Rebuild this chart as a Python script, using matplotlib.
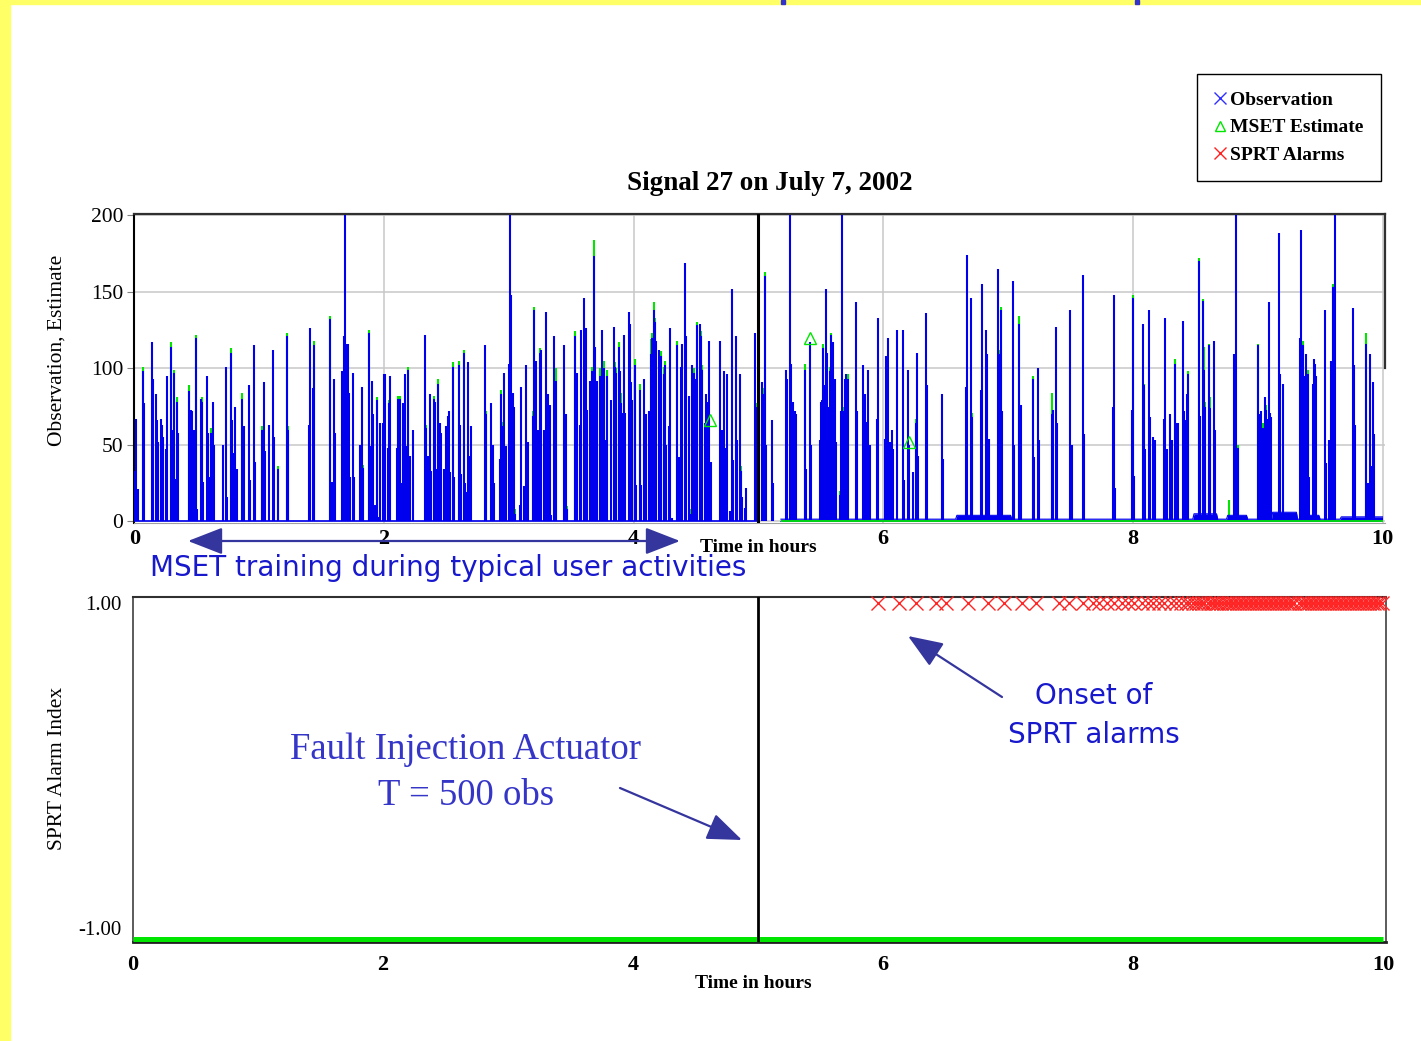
import numpy as np
import matplotlib
matplotlib.use("Agg")
import matplotlib.pyplot as plt
from matplotlib.lines import Line2D
from matplotlib.patches import Rectangle, FancyArrowPatch, ArrowStyle
from matplotlib.transforms import ScaledTranslation

plt.rcParams["font.family"] = ["Liberation Serif", "DejaVu Serif"]

# ---- data (observation number, 100 obs per hour) ----
OBS_PER_HOUR = 100
n_obs = 1000
fault_obs = 500

# observation spikes, training part (obs 0-499)
train_idx = [0, 1, 3, 7, 8, 14, 15, 17, 18, 19, 21, 22, 23, 25, 26, 29, 30, 31, 32, 33, 34, 35,
             44, 45, 46, 48, 49, 50, 53, 54, 55, 58, 59, 60, 61, 63, 64, 71, 73, 74, 77, 78, 79,
             81, 82, 86, 88, 92, 93, 96, 97, 102, 103, 104, 105, 108, 111, 112, 115, 122, 123,
             140, 141, 143, 144, 157, 158, 160, 161, 166, 167, 168, 169, 170, 171, 172, 173, 175,
             176, 181, 182, 183, 188, 189, 190, 191, 193, 194, 195, 197, 199, 200, 201, 203, 204,
             205, 210, 211, 213, 214, 215, 217, 218, 219, 221, 223, 233, 234, 235, 237, 238, 240,
             241, 242, 243,
             245, 246, 248, 250, 251, 252, 253, 255, 256, 260, 261, 262, 264, 265, 266, 267, 268,
             270, 281, 282, 286, 287, 288, 293, 294, 295, 296, 297, 298, 300, 301, 302, 303, 304,
             305, 309, 310, 312, 314, 315, 319, 320, 321, 322, 323, 325, 326, 328, 330, 331, 332,
             333, 334, 336, 338, 344, 346, 347, 353, 354, 355, 357, 358, 360, 362, 363, 365, 367,
             368, 369, 370, 371, 373, 374, 375, 376, 378, 379, 382, 384, 385, 386, 388, 389, 390,
             391, 392, 393, 396, 397, 398, 399, 401, 402, 405, 406, 408, 409, 410, 412, 413, 414,
             415, 416, 417, 418, 420, 421, 422, 424, 425, 426, 428, 429, 431, 435, 436, 438, 439,
             441, 442, 444, 445, 447, 448, 450, 451, 453, 454, 455, 457, 458, 459, 460, 462, 469,
             471, 472, 474, 475, 477, 479, 480, 482, 483, 485, 486, 487, 489, 490, 497, 498]
train_val = [33, 67, 21, 98, 77, 117, 93, 83, 66, 52, 67, 63, 55, 47, 95, 114, 50, 60, 97, 28, 78, 58,
             85, 73, 72, 60, 120, 8, 80, 78, 26, 95, 58, 29, 58, 78, 50, 50, 101, 16, 110, 66, 45,
             75, 34, 80, 62, 89, 27, 115, 39, 60, 5, 91, 46, 63, 112, 55, 34, 121, 60,
             63, 126, 87, 115, 132, 26, 93, 58, 98, 79, 121, 200, 116, 116, 84, 29, 97,
             29, 50, 88, 35, 123, 49, 92, 70, 11, 79, 3, 64, 64, 96, 96, 48, 77,
             95, 48, 80, 80, 25, 77, 96, 49, 99, 43, 60, 122, 61, 43, 83, 33, 80,
             78, 34, 90,
             64, 58, 34, 62, 69, 72, 32, 101, 29, 102, 63, 31, 110, 25, 19, 104, 43,
             62, 115, 70, 77, 50, 25, 41, 83, 62, 97, 47, 49, 103, 200, 148, 84, 75,
             5, 11, 88, 23, 102, 52, 69, 138, 51, 105, 60, 110, 112, 60, 137, 83, 50,
             76, 4, 121, 92, 115, 70, 8, 121, 63, 97, 63, 125, 146, 126, 73, 92, 98,
             173, 114, 55, 92, 95, 5, 125, 100, 53, 95, 79, 127, 101, 97, 114, 98, 77,
             71, 122, 71, 137, 129, 91, 79, 102, 24, 86, 24, 93, 69, 70, 72, 55, 109,
             120, 138, 130, 118, 112, 45, 108, 96, 102, 50, 62, 126, 2, 115, 42, 101, 116,
             169, 121, 82, 5, 102, 97, 93, 128, 129, 121, 99, 64, 83, 78, 118, 39, 118,
             60, 98, 48, 96, 7, 152, 40, 121, 53, 96, 33, 16, 9, 22, 123, 75]

# observation spikes after the fault injection (obs 500-1000)
test_idx = [503, 504, 505, 506, 511, 512, 522, 523, 525, 526, 528, 529, 530, 537, 538, 541, 542,
            549, 550, 551, 552, 553, 554, 555, 556, 557, 558, 559, 560, 561, 562, 565, 566, 567,
            568, 569, 570, 571, 572, 578, 579, 584, 585, 586, 588, 589, 595, 596, 601, 602, 603,
            604, 605, 607, 608, 611, 616, 617, 620, 621, 624, 626, 627, 628, 634, 635, 647, 648,
            666, 667, 670, 671, 678, 679, 682, 683, 685, 692, 693, 694, 695, 704, 705, 709, 710,
            720, 721, 724, 725, 735, 736, 738, 739,
            750, 751, 760, 761, 784, 785, 786, 799, 800, 801, 808, 809, 810, 813, 814, 816, 818,
            825, 826, 827, 830, 831, 834, 835, 836, 840, 841, 842, 843, 844, 853, 854, 856, 857,
            858, 861, 862, 865, 866, 881, 883, 884, 900, 901, 903, 904, 906, 907, 908, 909, 910,
            911, 917, 918, 920, 934, 935, 936, 937, 938, 939, 940, 941, 944, 945, 946, 947, 954,
            955, 957, 959, 960, 962, 976, 977, 978, 987, 988, 990, 991, 992, 993]
test_val = [91, 83, 160, 50, 66, 25, 99, 93, 200, 103, 78, 72, 70, 99, 34, 117, 50,
            53, 78, 79, 113, 89, 152, 110, 75, 98, 122, 108, 117, 93, 52, 17, 72, 200,
            72, 93, 96, 92, 93, 143, 72, 102, 83, 65, 99, 50, 67, 133, 54, 108, 53,
            120, 52, 60, 47, 125, 125, 27, 99, 50, 32, 64, 110, 43, 136, 89, 83, 41,
            88, 174, 146, 68, 86, 155, 125, 109, 54, 165, 109, 138, 72, 157, 50, 129, 76,
            93, 42, 100, 53, 70, 73, 127, 64,
            138, 50, 161, 57, 75, 148, 22, 73, 146, 30, 129, 89, 47, 138, 68, 55, 53,
            67, 133, 47, 70, 53, 103, 64, 64, 131, 72, 66, 83, 96, 170, 69, 144, 99,
            75, 115, 74, 118, 60, 109, 200, 48, 115, 70, 72, 61, 81, 73, 67, 143, 71,
            68, 188, 96, 90, 120, 190, 115, 95, 62, 109, 96, 29, 90, 106, 103, 95, 138,
            38, 53, 105, 153, 200, 139, 102, 63, 116, 25, 109, 36, 91, 57]

# low raised stretches of the observation baseline after the fault
floor_start = [518, 659, 849, 876, 912, 935, 967]
floor_end = [1000, 702, 867, 891, 931, 949, 1000]
floor_level = [1.5, 4, 5, 4, 6, 4, 3]

# MSET estimate where it shows above the observation
est_idx = [7, 29, 32, 34, 44, 49, 54, 61, 77, 86, 102, 115, 122, 123, 144, 157, 167, 183, 188,
           194, 204, 211, 213, 219, 234, 240, 243, 255, 260, 264, 282, 294, 295, 305, 319, 320,
           325, 338, 347, 353, 367, 368, 373, 376, 379, 385, 386, 388, 390, 401, 405, 413, 414,
           415, 416, 417, 422, 424, 425, 435, 445, 448, 451, 454, 455, 486, 498, 504, 505, 537,
           552, 557, 558, 565, 568, 572, 626, 671, 693, 694, 709, 720, 735, 800, 809, 834, 844,
           853, 856, 857, 858, 861, 862, 877, 884, 900, 904, 907, 936, 940, 960, 987]
est_val = [101, 117, 99, 81, 89, 122, 81, 61, 113, 84, 62, 36, 123, 62, 118, 134, 82, 37, 125,
           81, 79, 82, 82, 101, 63, 82, 93, 104, 105, 112, 72, 86, 65, 8, 72, 140,
           113, 100, 10, 124, 101, 184, 100, 105, 99, 104, 100, 117, 84, 106, 90, 58, 119,
           123, 143, 133, 111, 101, 105, 118, 8, 100, 130, 124, 102, 36, 77, 87, 163, 103,
           116, 101, 123, 20, 75, 96, 67, 71, 112, 140, 134, 95, 84, 148, 90, 106, 98,
           172, 145, 114, 78, 116, 81, 14, 50, 116, 64, 76, 118, 99, 155, 123]

# estimate points drawn with a marker
est_mark_idx = [461, 541, 621]
est_mark_val = [66, 120, 52]

# SPRT alarms (index = 1)
alarm_idx = [596, 613, 626, 642, 650, 668, 684, 697, 711, 722, 741, 749, 760, 768, 773, 779,
             785, 791, 796, 801, 807, 812, 816, 821, 825, 830, 834, 838, 842, 845, 848, 850,
             853, 855, 857, 860, 862, 864, 866, 868, 870, 873, 875, 877, 879, 881, 883, 885,
             887, 889, 891, 893, 895, 897, 899, 901, 903, 905, 907, 909, 911, 913, 915, 917,
             919, 921, 923, 925, 927, 929, 933, 935, 937, 939, 941, 943, 945, 947, 949, 951,
             953, 955, 957, 959, 961, 963, 965, 967, 969, 971, 973, 975, 977, 979, 981, 983,
             985, 987, 989, 991, 993, 995, 997, 999]
sprt_t = [0, 10]
sprt_val = [-1, -1]

# ---- layout helpers (pixel coords of the 1421x1041 slide) ----
W, H = 1421, 1041


def fx(x):
    return x / W


def fy(y):
    return 1 - y / H


blue = "#0000ee"
green = "#00e600"
txt_blue = "#1818cc"
arrow_col = "#35359e"

fig = plt.figure(figsize=(W / 100, H / 100), dpi=100)
fig.patch.set_facecolor("white")

# yellow slide border
fig.patches.append(Rectangle((0, 0), fx(10), 1, transform=fig.transFigure, color="#ffff66", zorder=0))
fig.patches.append(Rectangle((0, fy(4)), 1, 4 / H, transform=fig.transFigure, color="#ffff66", zorder=0))
for bx in [781, 1135]:
    fig.patches.append(Rectangle((fx(bx), fy(4)), 4 / W, 4 / H, transform=fig.transFigure,
                                 color="#3333cc", zorder=1))

# ---- top panel: observation and estimate ----
t_all = np.arange(n_obs + 1) / OBS_PER_HOUR
obs = np.zeros(n_obs + 1)
obs[train_idx] = train_val
obs[test_idx] = test_val
floor = np.zeros(n_obs + 1)
for s, e, lv in zip(floor_start, floor_end, floor_level):
    floor[s:e + 1] = np.maximum(floor[s:e + 1], lv)

ax1 = fig.add_axes([fx(134.4), fy(523), (1385 - 134.4) / W, (523 - 213.5) / H])
ax1.set_xlim(0, 10.02)
ax1.set_ylim(-1, 201)
ax1.set_xticks([0, 2, 4, 6, 8, 10])
ax1.set_yticks([0, 50, 100, 150, 200])
ax1.grid(True, color="#c8c8c8", lw=1.1)
ax1.set_axisbelow(True)

est_t = np.array(est_idx) / OBS_PER_HOUR
ax1.vlines(est_t, 0, est_val, color=green, lw=1.5, zorder=2)
mask = obs > 0
ax1.vlines(t_all[mask], 0, obs[mask], color=blue, lw=1.5, zorder=3)
ax1.fill_between(t_all, 0, floor, color=blue, lw=0, zorder=3)
ax1.hlines(0, 0, 5.0, color=blue, lw=1.2, zorder=3)
ax1.plot(t_all[518:], floor[518:], color=blue, lw=0.8, zorder=3)
ax1.hlines(0, 5.18, 10.0, color=green, lw=1.3, zorder=4)
ax1.plot(np.array(est_mark_idx) / OBS_PER_HOUR, est_mark_val, "^", ms=8, mfc="none",
         mec=green, mew=1.0, zorder=5)
ax1.axvline(fault_obs / OBS_PER_HOUR, color="black", lw=2.2, zorder=6)

ax1.spines["left"].set_color("black")
ax1.spines["left"].set_linewidth(1.5)
ax1.spines["top"].set_color("#303030")
ax1.spines["top"].set_linewidth(1.6)
ax1.spines["right"].set_color("#303030")
ax1.spines["right"].set_linewidth(1.6)
ax1.spines["right"].set_bounds(100, 201)
ax1.spines["bottom"].set_color("#a0a0a0")
ax1.spines["bottom"].set_linewidth(0.8)
ax1.tick_params(axis="y", length=5, color="#808080", pad=3, labelsize=15.5)
ax1.tick_params(axis="x", length=0, pad=4, labelsize=16)
for lbl in ax1.get_xticklabels():
    lbl.set_fontweight("bold")

# ---- bottom panel: SPRT alarm index ----
ax2 = fig.add_axes([fx(133), fy(942), (1385.5 - 133) / W, (942 - 597) / H])
ax2.set_xlim(0, 10.02)
ax2.set_ylim(-1.018, 1.036)
ax2.set_xticks([0, 2, 4, 6, 8, 10])
ax2.set_yticks([-1, 1])
ax2.set_yticklabels(["-1.00", "1.00"])
ax2.plot(sprt_t, sprt_val, color=green, lw=3.6, solid_capstyle="butt", zorder=3)
ax2.plot(np.array(alarm_idx) / OBS_PER_HOUR, np.ones(len(alarm_idx)), "x", color="#ff2525",
         ms=10.5, mew=1.0, clip_on=False, zorder=4)
ax2.axvline(fault_obs / OBS_PER_HOUR, color="black", lw=2.0, zorder=5)
for side in ["left", "right"]:
    ax2.spines[side].set_color("#404040")
    ax2.spines[side].set_linewidth(1.2)
ax2.spines["top"].set_color("#303030")
ax2.spines["top"].set_linewidth(1.5)
ax2.spines["bottom"].set_color("#202020")
ax2.spines["bottom"].set_linewidth(2.0)
ax2.tick_params(axis="y", length=0, pad=8, labelsize=15)
ax2.tick_params(axis="x", length=0, pad=9, labelsize=16)
for lbl in ax2.get_xticklabels():
    lbl.set_fontweight("bold")
# the -1.00 label sits a little above its line in the reference
low_lbl = ax2.get_yticklabels()[0]
low_lbl.set_transform(low_lbl.get_transform() + ScaledTranslation(0, 8 / 72, fig.dpi_scale_trans))

# ---- texts ----
fig.text(fx(770), fy(184), "Signal 27 on July 7, 2002", ha="center", va="center",
         fontsize=19.5, fontweight="bold")
fig.text(fx(57), fy(350), "Observation, Estimate", rotation=90, ha="center", va="center",
         fontsize=15.5)
fig.text(fx(58), fy(768), "SPRT Alarm Index", rotation=90, ha="center", va="center",
         fontsize=15.5)
fig.text(fx(758), fy(547), "Time in hours", ha="center", va="center", fontsize=14,
         fontweight="bold")
fig.text(fx(753), fy(983), "Time in hours", ha="center", va="center", fontsize=14,
         fontweight="bold")

fig.text(fx(448), fy(568), "MSET training during typical user activities", ha="center",
         va="center", fontsize=20, color=txt_blue, family="DejaVu Sans")
fig.text(fx(1094), fy(696), "Onset of", ha="center", va="center", fontsize=20,
         color=txt_blue, family="DejaVu Sans")
fig.text(fx(1094), fy(735), "SPRT alarms", ha="center", va="center", fontsize=20,
         color=txt_blue, family="DejaVu Sans")
fig.text(fx(466), fy(750), "Fault Injection Actuator", ha="center", va="center",
         fontsize=26.5, color="#3535c8")
fig.text(fx(466), fy(796), "T = 500 obs", ha="center", va="center", fontsize=26.5,
         color="#3535c8")

head = ArrowStyle("-|>", head_length=0.9, head_width=0.35)
both = ArrowStyle("<|-|>", head_length=0.9, head_width=0.35)
for (xa, ya), (xb, yb), st in [((188, 541), (680, 541), both),
                               ((620, 788), (742, 840), head),
                               ((1002, 697), (908, 636), head)]:
    fig.patches.append(FancyArrowPatch((fx(xa), fy(ya)), (fx(xb), fy(yb)),
                                       transform=fig.transFigure, arrowstyle=st,
                                       mutation_scale=24, color=arrow_col, lw=1.6,
                                       shrinkA=0, shrinkB=0, zorder=10))

# ---- legend ----
handles = [Line2D([], [], ls="none", marker="x", color="#3030ff", ms=9, mew=1.0),
           Line2D([], [], ls="none", marker="^", mfc="none", mec=green, ms=7, mew=1.0),
           Line2D([], [], ls="none", marker="x", color="#ff2020", ms=9, mew=1.0)]
leg = fig.legend(handles, ["Observation", "MSET Estimate", "SPRT Alarms"], loc="upper left",
                 bbox_to_anchor=(fx(1197), fy(74)), frameon=True, fancybox=False,
                 edgecolor="black", framealpha=1,
                 prop=dict(family="Liberation Serif", weight="bold", size=14),
                 handlelength=0.6, handletextpad=0.2, labelspacing=0.5, borderpad=0.9,
                 borderaxespad=0)
leg.get_frame().set_linewidth(1.0)

fig.savefig("out.png", dpi=100)
